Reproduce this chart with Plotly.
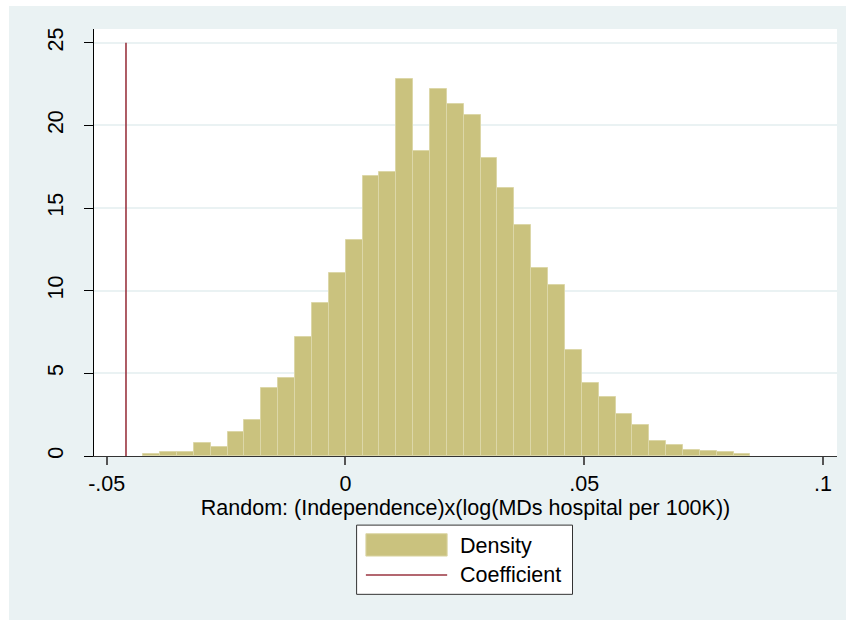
import numpy as np
import plotly.graph_objects as go

# ---- data ----
bin_start = -0.04234
bin_width = 0.003532
density = [0.15, 0.23, 0.23, 0.76, 0.55, 1.44, 2.2, 4.12, 4.72, 7.2,
           9.26, 11.07, 13.08, 16.95, 17.15, 22.79, 18.48, 22.22, 21.3, 20.63,
           18.02, 16.2, 13.97, 11.35, 10.32, 6.39, 4.42, 3.55, 2.55, 1.9,
           0.9, 0.65, 0.39, 0.29, 0.23, 0.13]
coefficient = -0.04596
coef_y = [0, 25]

x_tickvals = [-0.05, 0, 0.05, 0.1]
x_ticktext = ["-.05", "0", ".05", ".1"]
y_tickvals = [0, 5, 10, 15, 20, 25]
y_ticktext = ["0", "5", "10", "15", "20", "25"]
x_title = "Random: (Independence)x(log(MDs hospital per 100K))"
legend_labels = ["Density", "Coefficient"]

# ---- styles / layout ----
BG = "#EAF2F3"
BAR = "#CAC27E"
BAR_EDGE = "#DCD7A8"
RED = "#9A3540"
FONT = "Liberation Sans, Arial, sans-serif"
FS = 21.5
W, H = 846, 620
PL, PR, PT, PB = 94, 837.3, 29, 456.5  # plot area, page pixels

def px(x):
    return (x - PL) / (PR - PL)

def py(y):
    return (PB - y) / (PB - PT)

centers = bin_start + bin_width * (np.arange(len(density)) + 0.5)

fig = go.Figure()
fig.add_trace(go.Bar(
    x=centers, y=density, width=bin_width, name=legend_labels[0],
    marker=dict(color=BAR, line=dict(color=BAR_EDGE, width=1)),
    showlegend=False,
))
fig.add_trace(go.Scatter(
    x=[coefficient, coefficient], y=coef_y, mode="lines", name=legend_labels[1],
    line=dict(color=RED, width=1.6), showlegend=False,
))

shapes = [
    # white page strips around the graph region
    dict(type="rect", xref="paper", yref="paper", x0=px(-2), x1=px(9), y0=py(-2), y1=py(H + 2),
         fillcolor="white", line=dict(width=0)),
    dict(type="rect", xref="paper", yref="paper", x0=px(-2), x1=px(W + 2), y0=py(-2), y1=py(6),
         fillcolor="white", line=dict(width=0)),
    # legend box
    dict(type="rect", xref="paper", yref="paper", x0=px(356.7), x1=px(572.7),
         y0=py(525.7), y1=py(595), fillcolor="white", line=dict(color="#333333", width=1)),
    dict(type="rect", xref="paper", yref="paper", x0=px(366), x1=px(447.3),
         y0=py(534.3), y1=py(556.7), fillcolor=BAR, line=dict(color=BAR_EDGE, width=1)),
    dict(type="line", xref="paper", yref="paper", x0=px(366), x1=px(447.3),
         y0=py(575.7), y1=py(575.7), line=dict(color=RED, width=1.6)),
]
annotations = [
    dict(text=legend_labels[0], xref="paper", yref="paper", x=px(458), y=py(547),
         xanchor="left", yanchor="middle", showarrow=False,
         font=dict(family=FONT, size=FS, color="black")),
    dict(text=legend_labels[1], xref="paper", yref="paper", x=px(458), y=py(576),
         xanchor="left", yanchor="middle", showarrow=False,
         font=dict(family=FONT, size=FS, color="black")),
]

fig.update_layout(
    width=W, height=H,
    margin=dict(l=PL, r=W - PR, t=PT, b=H - PB, pad=0),
    paper_bgcolor=BG, plot_bgcolor="white",
    font=dict(family=FONT, size=FS, color="black"),
    bargap=0, showlegend=False,
    shapes=shapes, annotations=annotations,
    xaxis=dict(
        range=[-0.05266, 0.10293], tickvals=x_tickvals, ticktext=x_ticktext,
        showgrid=False, zeroline=False,
        showline=True, linecolor="#333333", linewidth=1,
        ticks="outside", ticklen=8, tickcolor="#555555", tickwidth=1.5,
        tickfont=dict(size=FS), title=dict(text=x_title, font=dict(size=FS), standoff=0),
    ),
    yaxis=dict(
        range=[0, 25.83], tickvals=y_tickvals, ticktext=y_ticktext, tickangle=-90,
        ticklabelstandoff=12,
        showgrid=True, gridcolor=BG, gridwidth=1.5, zeroline=False,
        showline=True, linecolor="black", linewidth=1,
        ticks="outside", ticklen=9, tickcolor="black", tickwidth=1,
        tickfont=dict(size=FS),
    ),
)

fig.write_html(
    "out.html",
    config={"displayModeBar": False},
    post_script="document.body.style.margin='0';document.body.style.overflow='hidden';",
)
